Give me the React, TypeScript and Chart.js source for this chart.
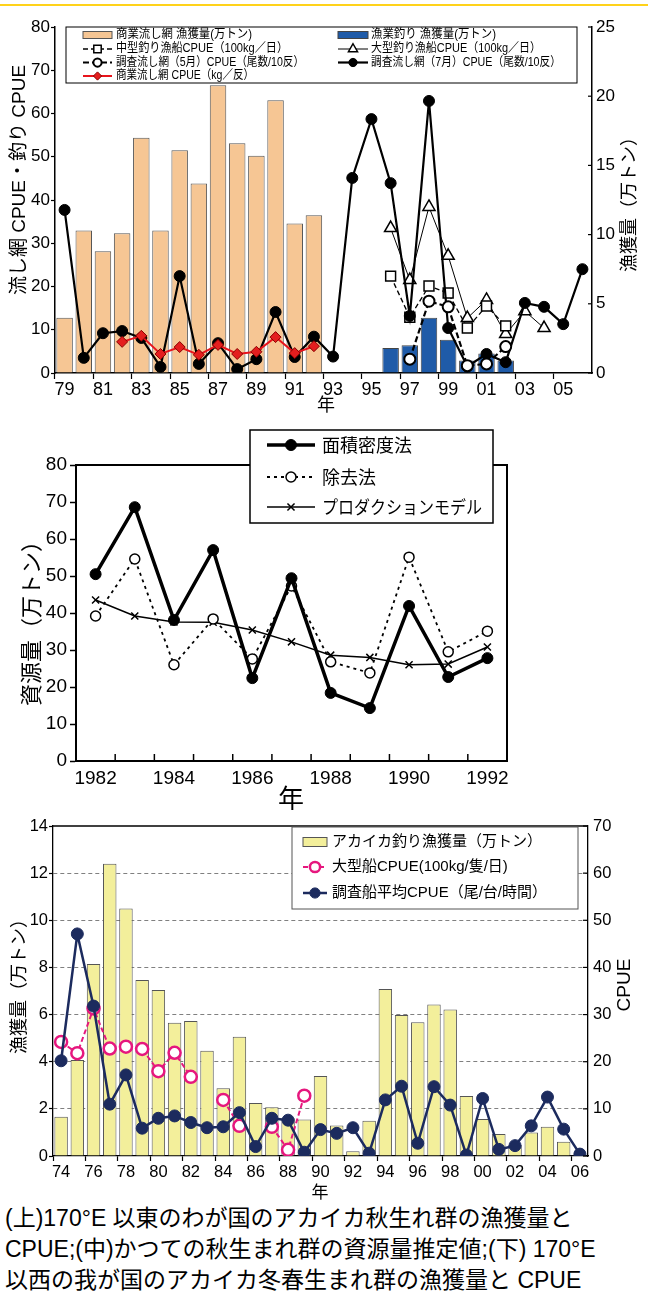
import React, { useEffect, useRef } from 'react';
import { Chart, registerables } from 'chart.js';

Chart.register(...registerables);
Chart.defaults.color = '#000';

const SANS = '"Liberation Sans", "Noto Sans CJK JP", sans-serif';
const NARROW = '"Liberation Sans Narrow", "Liberation Sans", "Noto Sans CJK JP", sans-serif';
const CJK = '"Noto Sans CJK JP", "Liberation Sans", sans-serif';

// ---------------- top chart (1979-2006) ----------------
const topYears = ['79', '80', '81', '82', '83', '84', '85', '86', '87', '88', '89', '90', '91', '92', '93', '94', '95', '96', '97', '98', '99', '00', '01', '02', '03', '04', '05', '06'];
const commercialDriftCatch = [4.0, 10.3, 8.8, 10.1, 17.0, 10.3, 16.1, 13.7, 20.8, 16.6, 15.7, 19.7, 10.8, 11.4, null, null, null, null, null, null, null, null, null, null, null, null, null, null];
const jigCatch = [null, null, null, null, null, null, null, null, null, null, null, null, null, null, null, null, null, 1.8, 2.0, 4.0, 2.4, 0.9, 1.4, 0.9, 0.05, null, null, null];
const mediumJigCPUE = [null, null, null, null, null, null, null, null, null, null, null, null, null, null, null, null, null, 22.4, 12.9, 20.1, 18.5, 10.4, 15.5, 10.9, null, null, null, null];
const largeJigCPUE = [null, null, null, null, null, null, null, null, null, null, null, null, null, null, null, null, null, 33.5, 21.5, 38.4, 27.1, 12.7, 16.9, 9.0, 14.3, 10.4, null, null];
const surveyMayCPUE = [null, null, null, null, null, null, null, null, null, null, null, null, null, null, null, null, null, null, 3.2, 16.6, 15.3, 1.7, 2.1, 6.1, null, null, null, null];
const surveyJulyCPUE = [37.7, 3.5, 9.2, 9.7, 8.1, 1.4, 22.4, 2.1, 6.9, 0.9, 3.2, 14.1, 3.7, 8.4, 3.8, 45.1, 58.7, 43.9, 13.2, 62.9, 10.4, 1.5, 4.4, 2.5, 16.2, 15.3, 11.3, 24.0];
const commercialDriftCPUE = [null, null, null, 7.2, 8.6, 4.4, 6.0, 4.2, 6.5, 4.4, 4.9, 8.3, 4.6, 6.2, null, null, null, null, null, null, null, null, null, null, null, null, null, null];
const topLeftTicks = { min: 0, max: 80, step: 10 };
const topRightTicks = { min: 0, max: 25, step: 5 };

// ---------------- middle chart (1982-1992) ----------------
const middleYears = ['1982', '1983', '1984', '1985', '1986', '1987', '1988', '1989', '1990', '1991', '1992'];
const areaDensity = [50.5, 68.6, 38.1, 57.0, 22.4, 49.4, 18.4, 14.3, 41.9, 22.7, 27.8];
const removalMethod = [39.2, 54.6, 26.0, 38.4, 27.6, 47.3, 26.8, 23.8, 55.1, 29.5, 35.1];
const productionModel = [43.5, 39.2, 37.6, 37.5, 35.4, 32.2, 28.6, 28.0, 26.0, 26.2, 30.8];
const middleTicks = { min: 0, max: 80, step: 10 };

// ---------------- bottom chart (1974-2006) ----------------
const bottomYears = ['74', '75', '76', '77', '78', '79', '80', '81', '82', '83', '84', '85', '86', '87', '88', '89', '90', '91', '92', '93', '94', '95', '96', '97', '98', '99', '00', '01', '02', '03', '04', '05', '06'];
const squidJigCatch = [1.67, 4.07, 8.15, 12.4, 10.5, 7.47, 7.04, 5.65, 5.73, 4.47, 2.87, 5.06, 2.25, 2.07, 1.6, 1.55, 3.39, 1.29, 0.2, 1.5, 7.08, 5.98, 5.67, 6.43, 6.22, 2.55, 1.57, 0.93, 0.47, 1.0, 1.24, 0.6, null];
const largeVesselCPUE = [24.2, 21.8, 31.3, 22.8, 23.2, 22.7, 18.0, 21.9, 16.8, null, 11.9, 6.4, null, 6.2, 1.3, 12.8, null, null, null, null, null, null, null, null, null, null, null, null, null, null, null, null, null];
const surveyVesselCPUE = [20.2, 47.1, 31.8, 11.0, 17.2, 5.9, 8.0, 8.5, 7.1, 6.0, 6.2, 9.2, 2.0, 8.0, 7.6, 0.8, 5.6, 4.8, 6.0, 0.6, 11.9, 14.8, 2.7, 14.7, 10.8, 0.2, 12.2, 1.4, 2.2, 6.4, 12.5, 5.7, 0.4];
const bottomLeftTicks = { min: 0, max: 14, step: 2 };
const bottomRightTicks = { min: 0, max: 70, step: 10 };

const captionLines = [
  '(上)170°E 以東のわが国のアカイカ秋生れ群の漁獲量と',
  'CPUE;(中)かつての秋生まれ群の資源量推定値;(下) 170°E',
  '以西の我が国のアカイカ冬春生まれ群の漁獲量と CPUE',
];

// ---------------- drawing helpers ----------------
function drawMarker(ctx: CanvasRenderingContext2D, style: string, x: number, y: number, r: number, fill: string, stroke: string, lw: number) {
  ctx.save();
  ctx.setLineDash([]);
  ctx.beginPath();
  ctx.lineWidth = lw;
  ctx.fillStyle = fill;
  ctx.strokeStyle = stroke;
  if (style === 'rect') {
    const s = r * Math.SQRT1_2;
    ctx.rect(x - s, y - s, 2 * s, 2 * s);
  } else if (style === 'triangle') {
    ctx.moveTo(x, y - r);
    ctx.lineTo(x + r * 0.866, y + r * 0.5);
    ctx.lineTo(x - r * 0.866, y + r * 0.5);
    ctx.closePath();
  } else if (style === 'rectRot') {
    ctx.moveTo(x - r, y);
    ctx.lineTo(x, y - r);
    ctx.lineTo(x + r, y);
    ctx.lineTo(x, y + r);
    ctx.closePath();
  } else if (style === 'crossRot') {
    const d = r * Math.SQRT1_2;
    ctx.moveTo(x - d, y - d);
    ctx.lineTo(x + d, y + d);
    ctx.moveTo(x - d, y + d);
    ctx.lineTo(x + d, y - d);
    ctx.stroke();
    ctx.restore();
    return;
  } else {
    ctx.arc(x, y, r, 0, Math.PI * 2);
  }
  ctx.fill();
  if (lw > 0) ctx.stroke();
  ctx.restore();
}

type LegendItem = { ds: number; x: number; y: number; w: number; tx: number; maxW?: number };
type LegendSpec = { box: number[]; border: string; borderWidth: number; font: string; barH: number; markerScale: number; items: LegendItem[] };
type TitleSpec = { text: string; x: number; y: number; font: string; rot?: number };
type DecorSpec = {
  titles?: TitleSpec[];
  legend?: LegendSpec;
  inwardRight?: { axis: string; len: number; width: number };
  innerXTicks?: { len: number; width: number };
  frameBox?: number;
  frameTop?: number;
};

function drawLegend(chart: any, spec: LegendSpec) {
  const ctx: CanvasRenderingContext2D = chart.ctx;
  const [x0, y0, x1, y1] = spec.box;
  ctx.save();
  ctx.fillStyle = '#fff';
  ctx.fillRect(x0, y0, x1 - x0, y1 - y0);
  ctx.strokeStyle = spec.border;
  ctx.lineWidth = spec.borderWidth;
  ctx.strokeRect(x0, y0, x1 - x0, y1 - y0);
  for (const it of spec.items) {
    const d = chart.data.datasets[it.ds];
    const type = d.type || chart.config.type;
    if (type === 'bar') {
      ctx.fillStyle = d.backgroundColor;
      ctx.fillRect(it.x, it.y - spec.barH / 2, it.w, spec.barH);
      ctx.strokeStyle = d.borderColor;
      ctx.lineWidth = 1;
      ctx.strokeRect(it.x, it.y - spec.barH / 2, it.w, spec.barH);
    } else {
      ctx.save();
      ctx.setLineDash(d.borderDash || []);
      ctx.strokeStyle = d.borderColor;
      ctx.lineWidth = d.borderWidth;
      ctx.beginPath();
      ctx.moveTo(it.x, it.y);
      ctx.lineTo(it.x + it.w, it.y);
      ctx.stroke();
      ctx.restore();
      drawMarker(ctx, d.pointStyle, it.x + it.w / 2, it.y, d.pointRadius * spec.markerScale, d.pointBackgroundColor, d.pointBorderColor, d.pointBorderWidth);
    }
    ctx.fillStyle = '#000';
    ctx.font = spec.font;
    ctx.textAlign = 'left';
    ctx.textBaseline = 'middle';
    if (it.maxW) ctx.fillText(d.label, it.tx, it.y, it.maxW);
    else ctx.fillText(d.label, it.tx, it.y);
  }
  ctx.restore();
}

function makeDecor(spec: DecorSpec) {
  return {
    id: 'decor',
    afterDraw(chart: any) {
      const ctx: CanvasRenderingContext2D = chart.ctx;
      const ca = chart.chartArea;
      ctx.save();
      ctx.strokeStyle = '#000';
      if (spec.frameBox) {
        ctx.lineWidth = spec.frameBox;
        ctx.strokeRect(ca.left, ca.top, ca.right - ca.left, ca.bottom - ca.top);
      }
      if (spec.frameTop) {
        ctx.lineWidth = spec.frameTop;
        ctx.beginPath();
        ctx.moveTo(ca.left, ca.top);
        ctx.lineTo(ca.right, ca.top);
        ctx.stroke();
      }
      if (spec.inwardRight) {
        const s = chart.scales[spec.inwardRight.axis];
        ctx.lineWidth = spec.inwardRight.width;
        for (const t of s.ticks) {
          const y = s.getPixelForValue(t.value);
          ctx.beginPath();
          ctx.moveTo(s.left, y);
          ctx.lineTo(s.left - spec.inwardRight.len, y);
          ctx.stroke();
        }
      }
      if (spec.innerXTicks) {
        const s = chart.scales.x;
        ctx.lineWidth = spec.innerXTicks.width;
        for (let i = 1; i < s.ticks.length; i++) {
          const x = (s.getPixelForTick(i - 1) + s.getPixelForTick(i)) / 2;
          ctx.beginPath();
          ctx.moveTo(x, ca.bottom);
          ctx.lineTo(x, ca.bottom - spec.innerXTicks.len);
          ctx.stroke();
        }
      }
      ctx.restore();
      if (spec.legend) drawLegend(chart, spec.legend);
      for (const t of spec.titles || []) {
        ctx.save();
        ctx.translate(t.x, t.y);
        ctx.rotate(t.rot || 0);
        ctx.font = t.font;
        ctx.fillStyle = '#000';
        ctx.textAlign = 'center';
        ctx.textBaseline = 'middle';
        ctx.fillText(t.text, 0, 0);
        ctx.restore();
      }
    },
  };
}

const evenTickColor = (c: any) => (c.index % 2 === 0 ? '#000' : 'rgba(0,0,0,0)');
const baseOptions = {
  responsive: false,
  animation: false,
  devicePixelRatio: 1,
  events: [],
  plugins: { legend: { display: false }, tooltip: { enabled: false } },
};

// ---------------- configs ----------------
function topConfig(): any {
  return {
    type: 'bar',
    data: {
      labels: topYears,
      datasets: [
        { type: 'bar', label: '商業流し網 漁獲量(万トン)', data: commercialDriftCatch, yAxisID: 'y2', backgroundColor: '#F6C694', borderColor: '#555', borderWidth: 1, grouped: false, barPercentage: 0.86, categoryPercentage: 1, order: 10 },
        { type: 'bar', label: '漁業釣り 漁獲量(万トン)', data: jigCatch, yAxisID: 'y2', backgroundColor: '#1F5BA8', borderColor: '#444', borderWidth: 1, grouped: false, barPercentage: 0.86, categoryPercentage: 1, order: 11 },
        { type: 'line', label: '中型釣り漁船CPUE（100kg／日）', data: mediumJigCPUE, yAxisID: 'y', borderColor: '#000', borderWidth: 1.3, borderDash: [5, 3], pointStyle: 'rect', pointRadius: 7, pointBackgroundColor: '#fff', pointBorderColor: '#000', pointBorderWidth: 1.5, order: 4 },
        { type: 'line', label: '大型釣り漁船CPUE（100kg／日）', data: largeJigCPUE, yAxisID: 'y', borderColor: '#000', borderWidth: 1, pointStyle: 'triangle', pointRadius: 7, pointBackgroundColor: '#fff', pointBorderColor: '#000', pointBorderWidth: 1.5, order: 5 },
        { type: 'line', label: '調査流し網（5月）CPUE（尾数/10反）', data: surveyMayCPUE, yAxisID: 'y', borderColor: '#000', borderWidth: 2.2, borderDash: [6, 3], pointStyle: 'circle', pointRadius: 5.5, pointBackgroundColor: '#fff', pointBorderColor: '#000', pointBorderWidth: 2, order: 1 },
        { type: 'line', label: '調査流し網（7月）CPUE（尾数/10反）', data: surveyJulyCPUE, yAxisID: 'y', borderColor: '#000', borderWidth: 2.2, pointStyle: 'circle', pointRadius: 5.5, pointBackgroundColor: '#000', pointBorderColor: '#000', pointBorderWidth: 1, order: 2 },
        { type: 'line', label: '商業流し網 CPUE（kg／反）', data: commercialDriftCPUE, yAxisID: 'y', borderColor: '#E8141C', borderWidth: 2, pointStyle: 'rectRot', pointRadius: 5.5, pointBackgroundColor: '#E41E1E', pointBorderColor: '#8A0000', pointBorderWidth: 1, order: 0 },
      ],
    },
    options: {
      ...baseOptions,
      layout: { autoPadding: false, padding: { top: 27, left: 0, right: 0, bottom: 0 } },
      scales: {
        x: {
          type: 'category',
          offset: true,
          grid: { offset: true, drawOnChartArea: false, drawTicks: true, tickLength: 6, tickWidth: 1.2, tickColor: evenTickColor },
          border: { color: '#000', width: 1.5 },
          ticks: { autoSkip: false, maxRotation: 0, padding: 0, color: '#000', font: { family: SANS, size: 18 }, callback: (_v: any, i: number) => (i % 2 === 0 ? topYears[i] : '') },
          afterFit: (s: any) => { s.height = 47; },
        },
        y: {
          type: 'linear', position: 'left', min: topLeftTicks.min, max: topLeftTicks.max,
          grid: { drawOnChartArea: false, tickLength: 4, tickWidth: 1.2, tickColor: '#000' },
          border: { color: '#000', width: 1.5 },
          ticks: { stepSize: topLeftTicks.step, padding: 1, color: '#000', font: { family: SANS, size: 17 } },
          afterFit: (s: any) => { s.width = 55; },
        },
        y2: {
          type: 'linear', position: 'right', min: topRightTicks.min, max: topRightTicks.max,
          grid: { drawOnChartArea: false, drawTicks: false },
          border: { color: '#000', width: 1.5 },
          ticks: { stepSize: topRightTicks.step, padding: 4, color: '#000', font: { family: SANS, size: 17 } },
          afterFit: (s: any) => { s.width = 56; },
        },
      },
    },
    plugins: [makeDecor({
      inwardRight: { axis: 'y2', len: 4, width: 1.2 },
      legend: {
        box: [66, 27, 577, 83], border: '#000', borderWidth: 1, font: `12.5px ${SANS}`, barH: 7, markerScale: 0.75,
        items: [
          { ds: 0, x: 83, y: 35, w: 29, tx: 116, maxW: 136 },
          { ds: 2, x: 83, y: 49, w: 29, tx: 116, maxW: 172 },
          { ds: 4, x: 83, y: 62.5, w: 29, tx: 116, maxW: 188 },
          { ds: 6, x: 83, y: 76, w: 29, tx: 116, maxW: 138 },
          { ds: 1, x: 338, y: 35, w: 30, tx: 371, maxW: 125 },
          { ds: 3, x: 338, y: 49, w: 30, tx: 371, maxW: 170 },
          { ds: 5, x: 338, y: 62.5, w: 30, tx: 371, maxW: 190 },
        ],
      },
      titles: [
        { text: '流し網 CPUE・釣り CPUE', x: 20, y: 180, font: `19px ${SANS}`, rot: -Math.PI / 2 },
        { text: '漁獲量（万トン）', x: 628, y: 200, font: `18px ${CJK}`, rot: -Math.PI / 2 },
        { text: '年', x: 326, y: 404, font: `18px ${CJK}` },
      ],
    })],
  };
}

function middleConfig(): any {
  return {
    type: 'line',
    data: {
      labels: middleYears,
      datasets: [
        { label: '面積密度法', data: areaDensity, borderColor: '#000', borderWidth: 3.5, pointStyle: 'circle', pointRadius: 5.5, pointBackgroundColor: '#000', pointBorderColor: '#000', pointBorderWidth: 1, order: 0 },
        { label: '除去法', data: removalMethod, borderColor: '#000', borderWidth: 1.8, borderDash: [3, 4], pointStyle: 'circle', pointRadius: 5, pointBackgroundColor: '#fff', pointBorderColor: '#000', pointBorderWidth: 1.5, order: 1 },
        { label: 'プロダクションモデル', data: productionModel, borderColor: '#000', borderWidth: 1.5, pointStyle: 'crossRot', pointRadius: 5, pointBackgroundColor: '#000', pointBorderColor: '#000', pointBorderWidth: 1.5, order: 2 },
      ],
    },
    options: {
      ...baseOptions,
      layout: { autoPadding: false, padding: { top: 45, left: 0, right: 141, bottom: 0 } },
      scales: {
        x: {
          type: 'category', offset: true,
          grid: { offset: true, drawOnChartArea: false, drawTicks: false },
          border: { color: '#000', width: 2 },
          ticks: { autoSkip: false, maxRotation: 0, padding: 6, color: '#000', font: { family: NARROW, size: 19 }, callback: (_v: any, i: number) => (i % 2 === 0 ? middleYears[i] : '') },
          afterFit: (s: any) => { s.height = 49; },
        },
        y: {
          type: 'linear', position: 'left', min: middleTicks.min, max: middleTicks.max,
          grid: { drawOnChartArea: false, tickLength: 6, tickWidth: 1.5, tickColor: '#000' },
          border: { color: '#000', width: 2 },
          ticks: { stepSize: middleTicks.step, padding: 3, color: '#000', font: { family: NARROW, size: 19 } },
          afterFit: (s: any) => { s.width = 76; },
        },
      },
    },
    plugins: [makeDecor({
      frameBox: 2,
      innerXTicks: { len: 7, width: 1.5 },
      legend: {
        box: [250, 10, 493, 103], border: '#000', borderWidth: 1.5, font: `18px ${CJK}`, barH: 8, markerScale: 1,
        items: [
          { ds: 0, x: 267, y: 25, w: 48, tx: 322, maxW: 160 },
          { ds: 1, x: 267, y: 57, w: 48, tx: 322, maxW: 160 },
          { ds: 2, x: 267, y: 87, w: 48, tx: 322, maxW: 160 },
        ],
      },
      titles: [
        { text: '資源量（万トン）', x: 31, y: 198, font: `22px ${CJK}`, rot: -Math.PI / 2 },
        { text: '年', x: 291, y: 378, font: `26px ${CJK}` },
      ],
    })],
  };
}

function bottomConfig(): any {
  return {
    type: 'bar',
    data: {
      labels: bottomYears,
      datasets: [
        { type: 'bar', label: 'アカイカ釣り漁獲量（万トン）', data: squidJigCatch, yAxisID: 'y', backgroundColor: '#F3EF9B', borderColor: '#555', borderWidth: 1, barPercentage: 0.83, categoryPercentage: 1, order: 10 },
        { type: 'line', label: '大型船CPUE(100kg/隻/日)', data: largeVesselCPUE, yAxisID: 'y2', borderColor: '#E6177E', borderWidth: 2, borderDash: [5, 3], pointStyle: 'circle', pointRadius: 6, pointBackgroundColor: '#fff', pointBorderColor: '#E6177E', pointBorderWidth: 2.5, order: 2 },
        { type: 'line', label: '調査船平均CPUE（尾/台/時間）', data: surveyVesselCPUE, yAxisID: 'y2', borderColor: '#1C2B5E', borderWidth: 2.5, pointStyle: 'circle', pointRadius: 6, pointBackgroundColor: '#1C2B5E', pointBorderColor: '#1C2B5E', pointBorderWidth: 1, order: 1 },
      ],
    },
    options: {
      ...baseOptions,
      layout: { autoPadding: false, padding: { top: 16, left: 0, right: 0, bottom: 0 } },
      scales: {
        x: {
          type: 'category', offset: true,
          grid: { offset: true, drawOnChartArea: false, drawTicks: true, tickLength: 5, tickWidth: 1.2, tickColor: evenTickColor },
          border: { color: '#000', width: 1.3 },
          ticks: { autoSkip: false, maxRotation: 0, padding: 2, color: '#000', font: { family: SANS, size: 16.5 }, callback: (_v: any, i: number) => (i % 2 === 0 ? bottomYears[i] : '') },
          afterFit: (s: any) => { s.height = 44; },
        },
        y: {
          type: 'linear', position: 'left', min: bottomLeftTicks.min, max: bottomLeftTicks.max,
          grid: {
            drawOnChartArea: true, lineWidth: 1, tickLength: 4, tickWidth: 1.2, tickColor: '#000',
            color: (c: any) => (c.tick && (c.tick.value === bottomLeftTicks.min || c.tick.value === bottomLeftTicks.max) ? 'rgba(0,0,0,0)' : '#808080'),
          },
          border: { color: '#000', width: 1.3, dash: [4, 3] },
          ticks: { stepSize: bottomLeftTicks.step, padding: 1, color: '#000', font: { family: SANS, size: 16.5 } },
          afterFit: (s: any) => { s.width = 53; },
        },
        y2: {
          type: 'linear', position: 'right', min: bottomRightTicks.min, max: bottomRightTicks.max,
          grid: { drawOnChartArea: false, drawTicks: false },
          border: { color: '#000', width: 1.3 },
          ticks: { stepSize: bottomRightTicks.step, padding: 5, color: '#000', font: { family: SANS, size: 16.5 } },
          afterFit: (s: any) => { s.width = 60; },
        },
      },
    },
    plugins: [makeDecor({
      frameTop: 1.3,
      inwardRight: { axis: 'y2', len: 5, width: 1.2 },
      legend: {
        box: [292, 17, 578, 99], border: '#555', borderWidth: 1, font: `15px ${SANS}`, barH: 9, markerScale: 0.85,
        items: [
          { ds: 0, x: 303, y: 32, w: 24, tx: 332, maxW: 240 },
          { ds: 1, x: 303, y: 57, w: 24, tx: 332, maxW: 240 },
          { ds: 2, x: 303, y: 83, w: 24, tx: 332, maxW: 240 },
        ],
      },
      titles: [
        { text: '漁獲量（万トン）', x: 18, y: 172, font: `18px ${CJK}`, rot: -Math.PI / 2 },
        { text: 'CPUE', x: 625, y: 175, font: `19px ${SANS}`, rot: -Math.PI / 2 },
        { text: '年', x: 320, y: 382, font: `17px ${CJK}` },
      ],
    })],
  };
}

function ChartCanvas({ makeConfig, top, height }: { makeConfig: () => any; top: number; height: number }) {
  const ref = useRef<HTMLCanvasElement>(null);
  useEffect(() => {
    const chart = new Chart(ref.current as HTMLCanvasElement, makeConfig());
    return () => chart.destroy();
  }, []);
  return <canvas ref={ref} width={648} height={height} style={{ position: 'absolute', left: 0, top, width: 648, height }} />;
}

export default function App() {
  useEffect(() => {
    document.body.style.margin = '0';
  }, []);
  return (
    <div style={{ position: 'relative', width: 648, height: 1299, background: '#fff', overflow: 'hidden' }}>
      <div style={{ position: 'absolute', left: 0, top: 4, width: 648, height: 2, background: '#FFD21A' }} />
      <ChartCanvas makeConfig={topConfig} top={0} height={420} />
      <ChartCanvas makeConfig={middleConfig} top={420} height={390} />
      <ChartCanvas makeConfig={bottomConfig} top={810} height={390} />
      <div style={{ position: 'absolute', left: 5, top: 1203, fontFamily: SANS, fontSize: 23, lineHeight: '31px', color: '#000', whiteSpace: 'pre' }}>
        {captionLines.map((l, i) => (
          <div key={i}>{l}</div>
        ))}
      </div>
    </div>
  );
}
